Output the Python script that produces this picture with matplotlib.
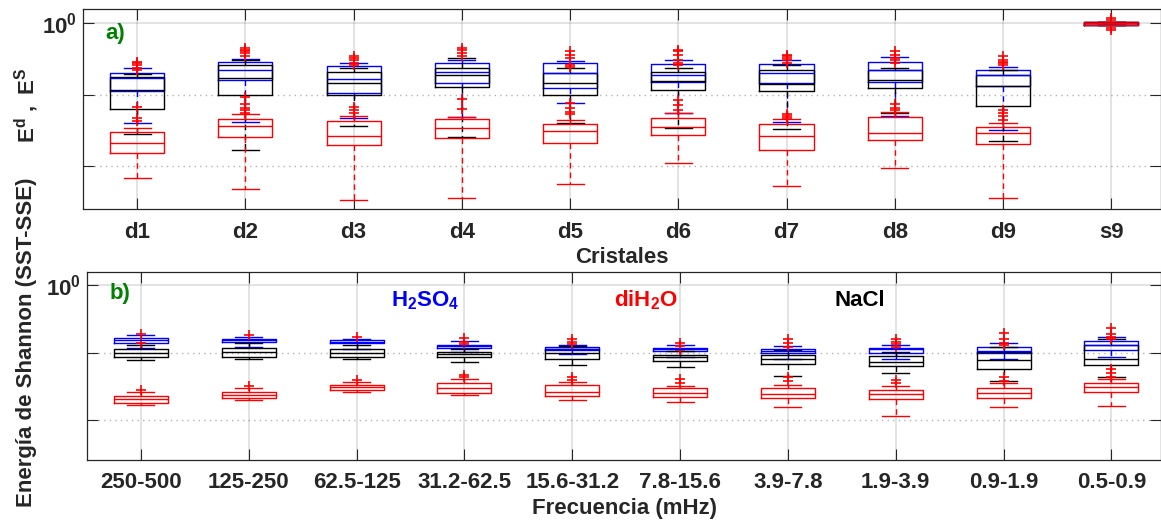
import numpy as np
import matplotlib
matplotlib.use("Agg")
import matplotlib.pyplot as plt
from matplotlib.ticker import FixedLocator, FixedFormatter, NullFormatter

plt.rcParams['font.family'] = ['Liberation Sans', 'DejaVu Sans']
plt.rcParams['font.weight'] = 'bold'
plt.rcParams['mathtext.fontset'] = 'custom'
plt.rcParams['mathtext.rm'] = 'Liberation Sans'
plt.rcParams['mathtext.bf'] = 'Liberation Sans:bold'
plt.rcParams['mathtext.it'] = 'Liberation Sans:italic'

# --- datos (log10 de la energia) ---
# columnas: bigote inf, Q1, mediana, Q3, bigote sup
cristales = ['d1', 'd2', 'd3', 'd4', 'd5', 'd6', 'd7', 'd8', 'd9', 's9']
frecuencias = ['250-500', '125-250', '62.5-125', '31.2-62.5', '15.6-31.2',
               '7.8-15.6', '3.9-7.8', '1.9-3.9', '0.9-1.9', '0.5-0.9']

a_h2so4 = [[-1.40, -0.95, -0.77, -0.69, -0.62],
           [-1.38, -0.80, -0.66, -0.54, -0.50],
           [-1.33, -0.97, -0.78, -0.60, -0.55],
           [-1.31, -0.83, -0.68, -0.55, -0.51],
           [-1.12, -0.90, -0.69, -0.56, -0.53],
           [-1.25, -0.82, -0.73, -0.57, -0.51],
           [-1.38, -0.83, -0.69, -0.57, -0.51],
           [-1.30, -0.82, -0.66, -0.54, -0.47],
           [-1.49, -0.88, -0.73, -0.65, -0.61],
           [-0.03, -0.02, 0.00, 0.014, 0.02]]
a_nacl = [[-1.55, -1.20, -0.94, -0.75, -0.71],
          [-1.78, -1.00, -0.76, -0.59, -0.51],
          [-1.44, -1.00, -0.83, -0.68, -0.62],
          [-1.59, -0.89, -0.73, -0.62, -0.48],
          [-1.40, -1.01, -0.84, -0.69, -0.63],
          [-1.46, -0.93, -0.81, -0.68, -0.62],
          [-1.48, -0.95, -0.85, -0.66, -0.58],
          [-1.26, -0.91, -0.79, -0.65, -0.62],
          [-1.65, -1.16, -0.88, -0.73, -0.66],
          [-0.03, -0.02, 0.00, 0.014, 0.02]]
a_dih2o = [[-2.16, -1.81, -1.67, -1.52, -1.46],
           [-2.32, -1.59, -1.44, -1.34, -1.27],
           [-2.48, -1.71, -1.58, -1.37, -1.30],
           [-2.44, -1.61, -1.47, -1.34, -1.31],
           [-2.25, -1.67, -1.51, -1.41, -1.35],
           [-1.96, -1.57, -1.45, -1.32, -1.26],
           [-2.28, -1.78, -1.58, -1.41, -1.34],
           [-2.02, -1.63, -1.53, -1.31, -1.24],
           [-2.45, -1.69, -1.54, -1.45, -1.39],
           [-0.03, -0.02, 0.00, 0.014, 0.02]]
a_atipicos = [[-0.54, -0.56, -0.59, -0.63, -0.66, -1.17, -1.32, -1.37],
              [-0.34, -0.37, -0.39, -0.42, -0.46, -1.03, -1.13, -1.18, -1.21, -1.25],
              [-0.46, -0.49, -0.52, -0.55, -0.58, -1.17, -1.21, -1.25],
              [-0.34, -0.38, -0.42, -0.46, -1.06, -1.20],
              [-0.39, -0.44, -0.48, -0.58, -0.61, -1.11, -1.18, -1.24, -1.27],
              [-0.37, -0.39, -0.44, -0.51, -0.55, -0.59, -1.07, -1.14, -1.21],
              [-0.44, -0.46, -0.49, -0.52, -0.55, -1.27, -1.30, -1.32],
              [-0.39, -0.44, -0.48, -0.52, -0.55, -1.13, -1.18, -1.21],
              [-0.46, -0.51, -0.54, -0.56, -0.59, -1.21, -1.25, -1.30, -1.35],
              [0.07, 0.04, -0.06, -0.09]]

b_h2so4 = [[-0.93, -0.85, -0.81, -0.79, -0.74],
           [-0.92, -0.84, -0.81, -0.80, -0.77],
           [-0.94, -0.86, -0.84, -0.82, -0.80],
           [-0.99, -0.93, -0.90, -0.88, -0.83],
           [-1.02, -0.96, -0.94, -0.91, -0.89],
           [-1.06, -0.98, -0.95, -0.93, -0.88],
           [-1.09, -1.00, -0.97, -0.95, -0.90],
           [-1.10, -1.00, -0.95, -0.93, -0.88],
           [-1.10, -1.01, -0.97, -0.92, -0.86],
           [-1.07, -0.96, -0.88, -0.83, -0.77]]
b_nacl = [[-1.11, -1.06, -1.00, -0.95, -0.89],
          [-1.10, -1.06, -0.99, -0.93, -0.86],
          [-1.10, -1.07, -1.01, -0.95, -0.89],
          [-1.14, -1.07, -1.02, -0.99, -0.94],
          [-1.19, -1.10, -1.00, -0.94, -0.90],
          [-1.22, -1.13, -1.07, -1.03, -0.97],
          [-1.35, -1.17, -1.10, -1.03, -0.96],
          [-1.31, -1.20, -1.14, -1.05, -0.99],
          [-1.42, -1.24, -1.11, -0.99, -0.92],
          [-1.37, -1.19, -1.09, -0.88, -0.80]]
b_dih2o = [[-1.78, -1.75, -1.69, -1.64, -1.58],
           [-1.71, -1.68, -1.63, -1.59, -1.53],
           [-1.59, -1.56, -1.52, -1.49, -1.44],
           [-1.63, -1.60, -1.53, -1.46, -1.40],
           [-1.70, -1.64, -1.58, -1.49, -1.44],
           [-1.73, -1.66, -1.60, -1.53, -1.50],
           [-1.81, -1.67, -1.62, -1.53, -1.49],
           [-1.94, -1.69, -1.62, -1.55, -1.50],
           [-1.81, -1.67, -1.60, -1.53, -1.45],
           [-1.79, -1.59, -1.51, -1.46, -1.39]]
b_atipicos = [[-0.72, -0.86, -1.56],
              [-0.74, -1.50],
              [-0.77, -1.41],
              [-0.79, -0.84, -0.87, -1.33, -1.36],
              [-0.80, -0.84, -0.87, -1.36, -1.41],
              [-0.85, -0.90, -0.96, -1.40, -1.45],
              [-0.80, -0.86, -0.92, -1.37, -1.42],
              [-0.80, -0.84, -0.87, -0.91, -1.41, -1.46],
              [-0.71, -0.80, -0.85, -0.89, -1.37, -1.42],
              [-0.64, -0.72, -0.77, -0.80, -1.25, -1.31, -1.36]]


def stats(filas, atipicos=None):
    out = []
    for i, f in enumerate(filas):
        v = 10 ** np.array(f)
        fl = 10 ** np.array(atipicos[i]) if atipicos is not None else []
        out.append(dict(whislo=v[0], q1=v[1], med=v[2], q3=v[3], whishi=v[4], fliers=fl))
    return out


def cajas(ax, filas, color, atipicos=None):
    pos = np.arange(1, len(filas) + 1)
    ax.bxp(stats(filas, atipicos), positions=pos, widths=0.5, capwidths=0.25,
           showfliers=True, manage_ticks=False,
           boxprops=dict(color=color, lw=1.0),
           medianprops=dict(color=color, lw=1.0),
           whiskerprops=dict(color=color, lw=1.0, ls=(0, (4, 3))),
           capprops=dict(color=color, lw=1.0),
           flierprops=dict(marker='+', mec='red', mfc='none', ms=7, mew=1.2, ls='none'))


def ejes(ax, etiquetas):
    ax.set_yscale('log')
    ax.set_xlim(0.5, 10.46)
    ax.set_ylim(10 ** -2.6, 10 ** 0.2)
    ax.set_xticks(np.arange(1, 11))
    ax.set_xticklabels(etiquetas)
    ax.yaxis.set_major_locator(FixedLocator([1.0]))
    ax.yaxis.set_major_formatter(FixedFormatter([r'$\mathbf{10^0}$']))
    ax.yaxis.set_minor_locator(FixedLocator([0.1, 0.01]))
    ax.yaxis.set_minor_formatter(NullFormatter())
    ax.tick_params(which='both', direction='in', top=True, right=True, length=8,
                   width=0.8, color='#262626', labelsize=16, labelcolor='#262626')
    ax.tick_params(axis='x', pad=9)
    ax.tick_params(axis='y', pad=4)
    ax.grid(True, which='major', color='#262626', alpha=0.15, lw=1.2)
    ax.grid(True, which='minor', axis='y', color='#262626', alpha=0.35, lw=1, ls=(0, (1, 3)))
    ax.set_axisbelow(True)
    for s in ax.spines.values():
        s.set_color('#262626')
        s.set_linewidth(0.9)


fig = plt.figure(figsize=(11.61, 5.25), dpi=100)
ax1 = fig.add_axes([83 / 1161, 1 - 209 / 525, 1 - 83 / 1161, 200 / 525])
ax2 = fig.add_axes([87 / 1161, 1 - 460 / 525, 1 - 87 / 1161, 188 / 525])

cajas(ax1, a_h2so4, 'blue')
cajas(ax1, a_nacl, 'black')
cajas(ax1, a_dih2o, 'red', a_atipicos)
ejes(ax1, cristales)
ax1.set_xlabel('Cristales', fontsize=16, fontweight='bold', color='#262626', labelpad=3)
ax1.text(0.021, 0.88, 'a)', transform=ax1.transAxes, color='green', fontsize=16,
         fontweight='bold', va='center', ha='left')

cajas(ax2, b_h2so4, 'blue')
cajas(ax2, b_nacl, 'black')
cajas(ax2, b_dih2o, 'red', b_atipicos)
ejes(ax2, frecuencias)
ax2.set_xlabel('Frecuencia (mHz)', fontsize=16, fontweight='bold', color='#262626', labelpad=3)
ax2.text(0.021, 0.886, 'b)', transform=ax2.transAxes, color='green', fontsize=16,
         fontweight='bold', va='center', ha='left')
ax2.text(0.315, 0.85, r'$\mathbf{H_2SO_4}$', transform=ax2.transAxes, color='blue',
         fontsize=16, ha='center', va='center')
ax2.text(0.52, 0.85, r'$\mathbf{diH_2O}$', transform=ax2.transAxes, color='red',
         fontsize=16, ha='center', va='center')
ax2.text(0.72, 0.85, 'NaCl', transform=ax2.transAxes, color='black',
         fontsize=16, fontweight='bold', ha='center', va='center')

fig.text(27 / 1161, 1 - 105 / 525, r'$\mathbf{E^d\ ,\ E^S}$', rotation=90,
         fontsize=16, color='#262626', ha='center', va='center')
fig.text(27 / 1161, 1 - 342 / 525, 'Energía de Shannon (SST-SSE)', rotation=90,
         fontsize=16, fontweight='bold', color='#262626', ha='center', va='center')

fig.savefig('out.png', dpi=100)
